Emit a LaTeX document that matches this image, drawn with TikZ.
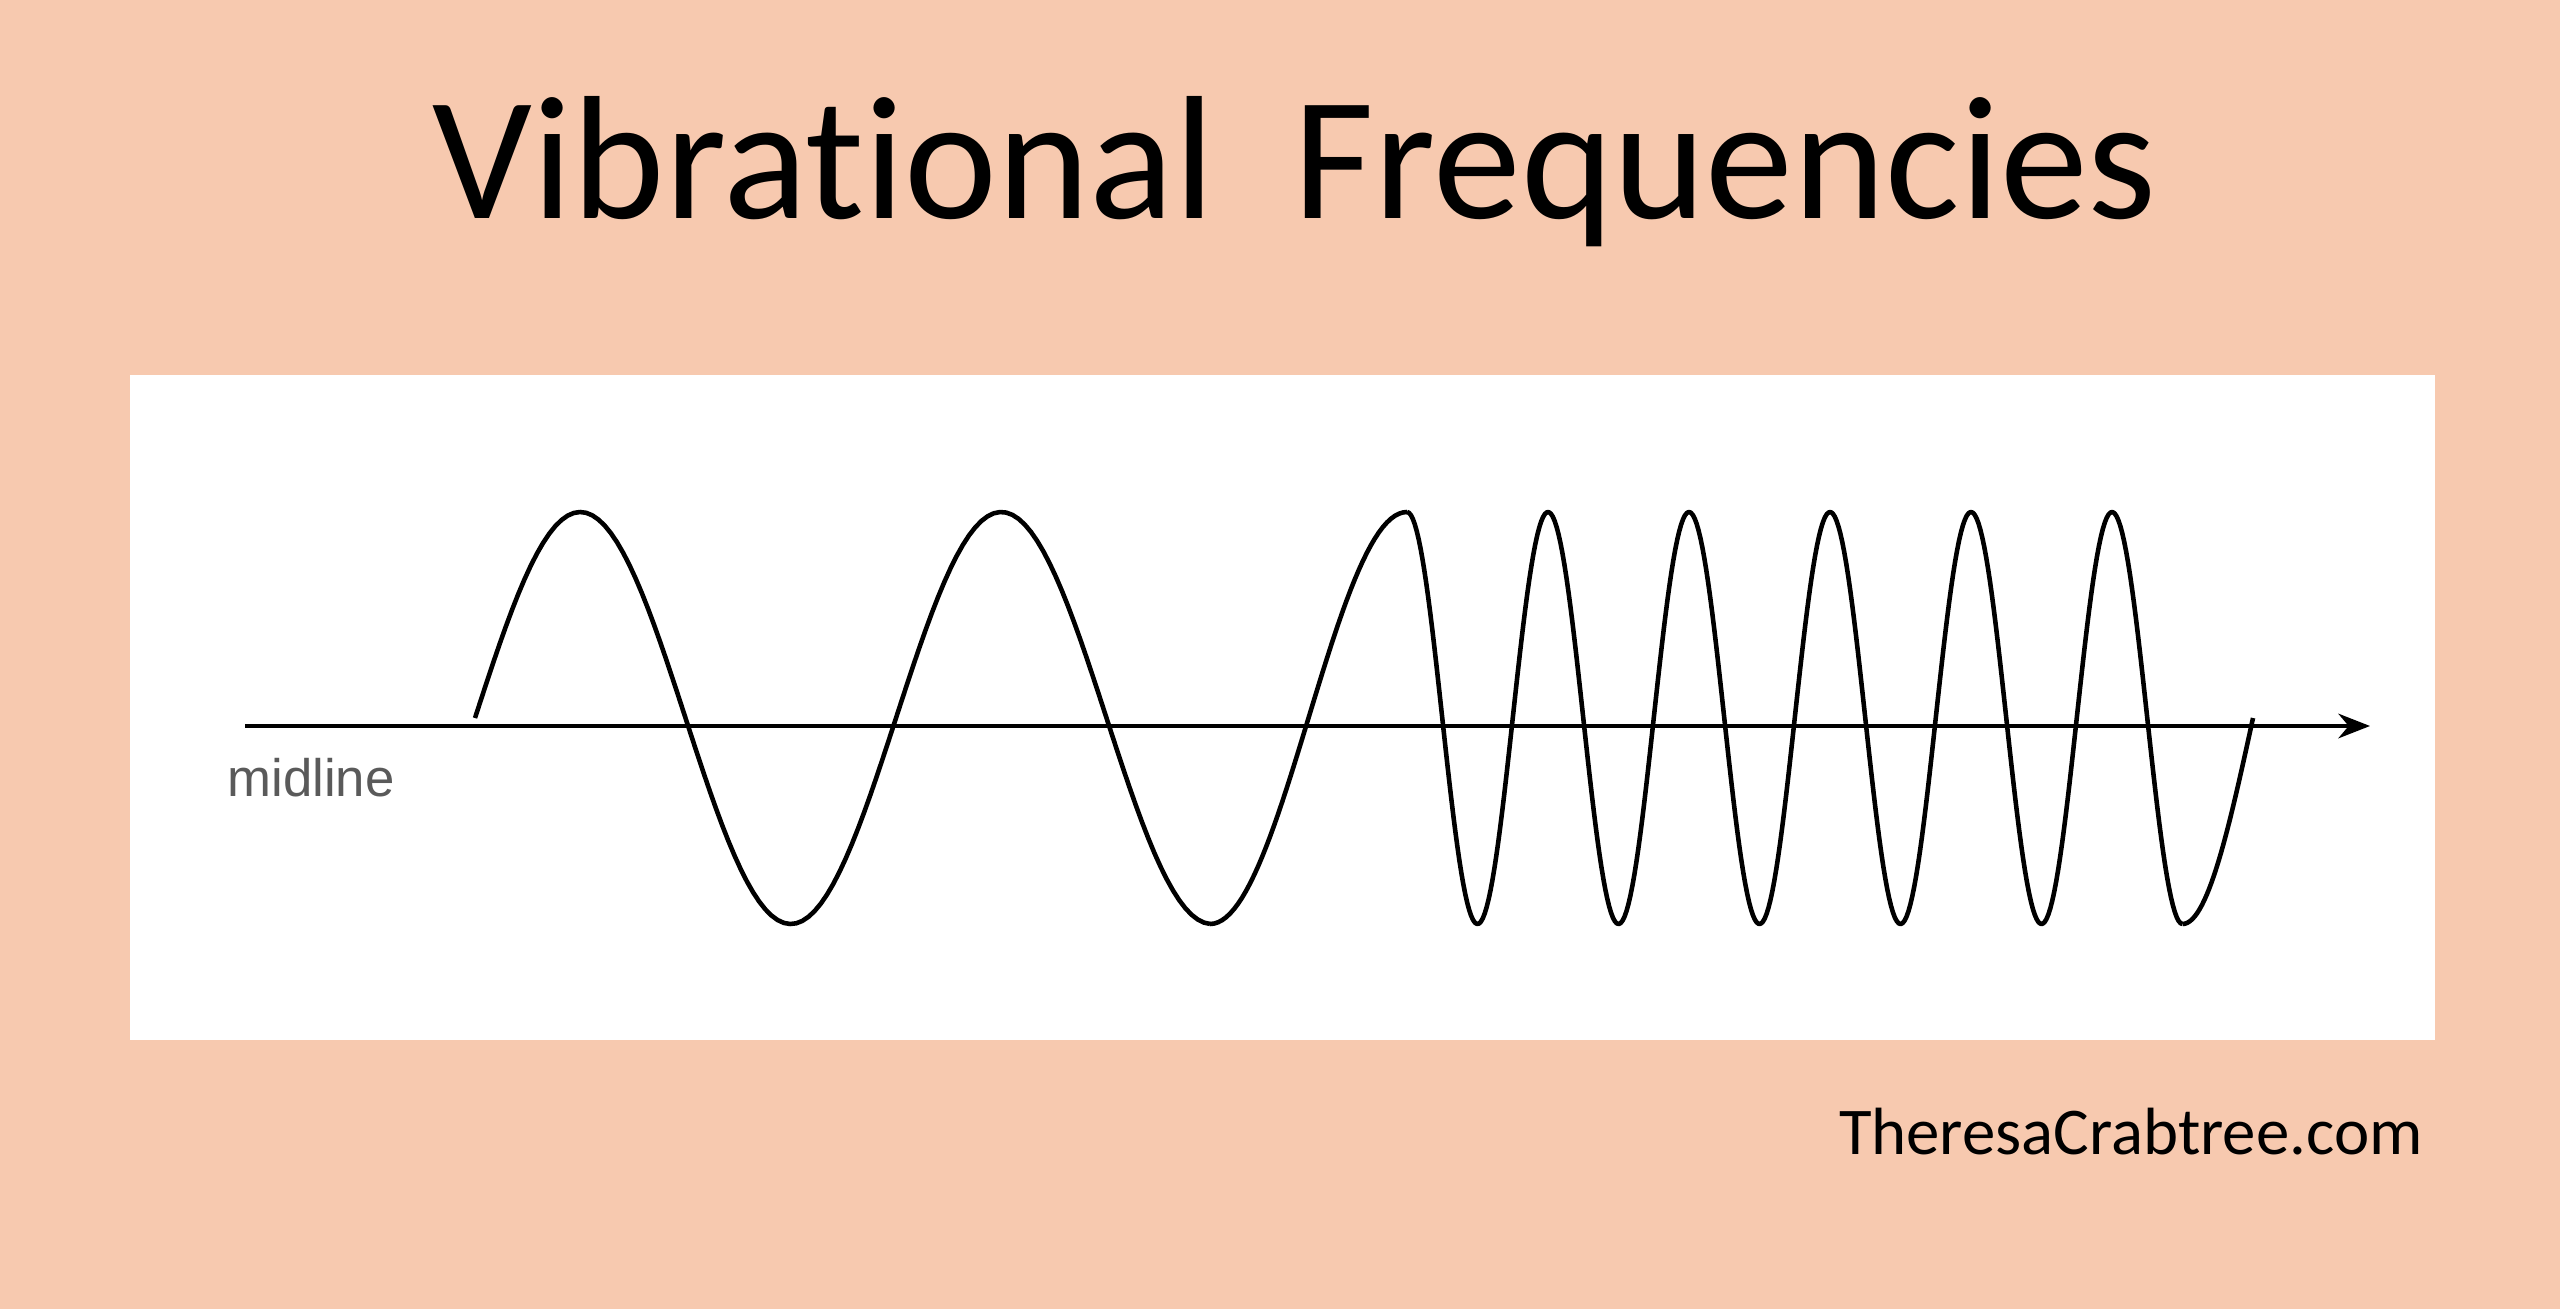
\documentclass[tikz,border=0pt]{standalone}
\usepackage{fontspec}
\setmainfont[Ligatures=NoCommon]{Carlito}
\newfontfamily\labelfont{Liberation Sans}
\usetikzlibrary{arrows.meta}
\definecolor{peach}{RGB}{247,201,175}
\definecolor{midgray}{RGB}{90,90,90}

\begin{document}
\begin{tikzpicture}[x=0.01cm,y=-0.01cm]
        \tikzset{wave/.style = {line width=1.3pt,black,line join=round}}
        \tikzset{axis/.style = {-{Stealth[length=9pt,width=7pt]},line width=1.1pt}}

        % background and panel
        \fill[peach] (0,0) rectangle (2560,1309);
        \fill[white] (130,375) rectangle (2435,1040);

        % texts
        \node (title) at (1295,172) {\fontsize{50}{60}\selectfont Vibrational\ \ Frequencies};
        \node[anchor=east] (site) at (2435,1132) {\fontsize{19}{23}\selectfont TheresaCrabtree.com};
        \node[anchor=west,text=midgray] (mid) at (215,778) {\labelfont\fontsize{15}{18}\selectfont midline};

        % midline
        \coordinate (start) at (245,726);
        \coordinate (end) at (2370,726);
        \draw[axis] (start) -- (end);

        % wave
        \draw[wave,samples=120,domain=475:1210]
            plot (\x,{718-206*sin((\x-475)/421*360)});
        \draw[wave,samples=50,domain=1210:1407]
            plot (\x,{718+206*cos((\x-1210)/197*180)});
        \draw[wave,samples=400,domain=1407:2182.5]
            plot (\x,{718-206*cos((\x-1407)/141*360)});
        \draw[wave,samples=30,domain=2182.5:2253]
            plot (\x,{718+206*cos((\x-2182.5)/70.5*90)});
\end{tikzpicture}
\end{document}
